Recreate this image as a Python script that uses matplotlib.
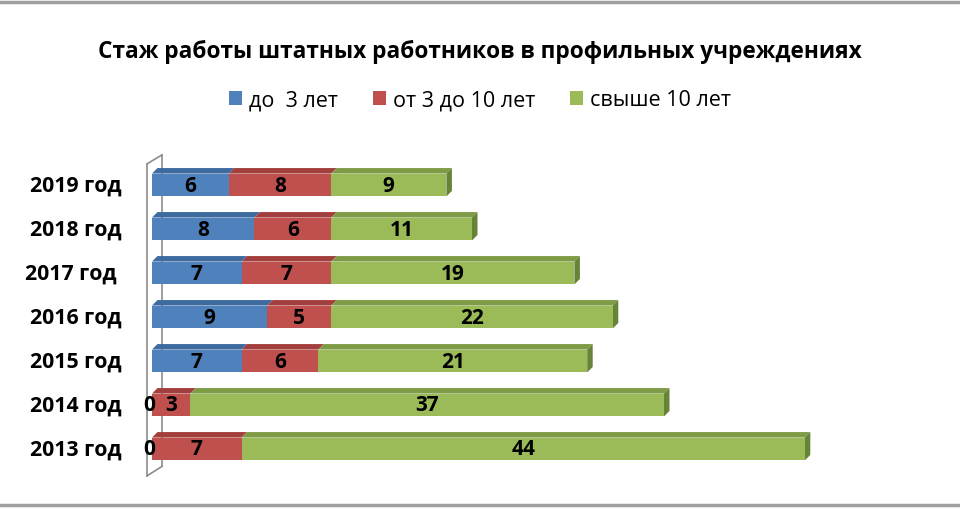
import numpy as np
import matplotlib
matplotlib.use('Agg')
import matplotlib.pyplot as plt
from matplotlib.patches import Patch
from matplotlib.lines import Line2D

plt.rcParams['font.family'] = ['Open Sans', 'Liberation Sans', 'DejaVu Sans']

# данные
years = ['2013 год', '2014 год', '2015 год', '2016 год', '2017 год ', '2018 год', '2019 год']
under3 = [0, 0, 7, 9, 7, 8, 6]
from3to10 = [7, 3, 6, 5, 7, 6, 8]
over10 = [44, 37, 21, 22, 19, 11, 9]
series_names = ['до  3 лет', 'от 3 до 10 лет', 'свыше 10 лет']
title = 'Стаж работы штатных работников в профильных учреждениях'

face = ['#4F81BD', '#C0504D', '#9BBB59']
top_c = ['#3D6A9F', '#A23F3C', '#7E9C45']
side_c = ['#2F5582', '#85312F', '#67833A']

W, H = 960, 510
fig = plt.figure(figsize=(W / 100, H / 100), dpi=100, facecolor='white')

# пиксельная раскладка
px_unit = 12.8      # пикселей на единицу
row_px = 44.0       # шаг строк
x0_px = 152.0       # ноль оси X
y0_px = 450.0       # центр нижней строки
xmax = 60
ylo, yhi = -0.6, 6.6
ax = fig.add_axes([x0_px / W, 1 - (y0_px - ylo * row_px) / H,
                   xmax * px_unit / W, (yhi - ylo) * row_px / H])
ax.set_xlim(0, xmax)
ax.set_ylim(ylo, yhi)
ax.axis('off')

bh = 0.52
dx = 5.5 / px_unit
dy = 5.5 / row_px

# стенка
wall = dict(color='#8C8C8C', lw=1.2, clip_on=False)
fx = -5 / px_unit
ax.add_line(Line2D([fx, fx], [ylo - 0.01, yhi - 0.12], zorder=1, **wall))
ax.add_line(Line2D([fx, fx + 15 / px_unit], [yhi - 0.12, yhi - 0.12 + 9 / row_px], zorder=1, **wall))
ax.add_line(Line2D([fx + 15 / px_unit] * 2, [ylo + 9 / row_px, yhi - 0.12 + 9 / row_px], zorder=0.5, **wall))
ax.add_line(Line2D([fx, fx + 15 / px_unit], [ylo - 0.01, ylo + 9 / row_px], zorder=1, **wall))

y = np.arange(len(years))
data = [under3, from3to10, over10]
left = np.zeros(len(years))
for k, vals in enumerate(data):
    vals = np.array(vals, dtype=float)
    ax.barh(y, vals, left=left, height=bh, color=face[k], zorder=3, linewidth=0)
    for i in range(len(years)):
        l, r = left[i], left[i] + vals[i]
        t = y[i] + bh / 2
        if vals[i] > 0:
            ax.fill([l, r, r + dx, l + dx], [t, t, t + dy, t + dy],
                    color=top_c[k], zorder=2, lw=0)
        # подпись
        ax.text((l + r) / 2 if vals[i] > 0 else l - 0.2, y[i], f'{int(vals[i])}',
                ha='center', va='center', fontsize=15, fontweight='bold',
                color='black', zorder=5)
    left = left + vals

# правые грани
for i in range(len(years)):
    r = left[i]
    b, t = y[i] - bh / 2, y[i] + bh / 2
    ax.fill([r, r + dx, r + dx, r], [b, b + dy, t + dy, t], color=side_c[2], zorder=2, lw=0)

# подписи по оси Y
for i, lab in enumerate(years):
    ax.text(-30 / px_unit, y[i], lab, ha='right', va='center',
            fontsize=15.3, fontweight='bold', color='black')

fig.text(0.5, 1 - 52 / H, title, ha='center', va='center',
         fontsize=16.3, fontweight='bold', color='black')

handles = [Patch(facecolor=c, edgecolor='none') for c in face]
fig.legend(handles, series_names, loc='center', bbox_to_anchor=(0.5, 1 - 101 / H),
           ncol=3, frameon=False, fontsize=15.5, handlelength=0.6, handleheight=0.6,
           handletextpad=0.35, columnspacing=1.6)

# рамка
fig.add_artist(Line2D([0, 1], [1 - 3 / H] * 2, color='#A0A0A0', lw=2.5, transform=fig.transFigure))
fig.add_artist(Line2D([0, 1], [4 / H] * 2, color='#A0A0A0', lw=2.5, transform=fig.transFigure))

fig.savefig('out.png', dpi=100, facecolor='white')
